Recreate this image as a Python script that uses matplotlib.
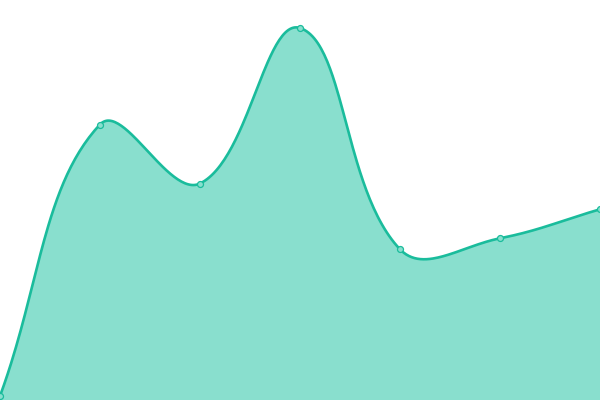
import numpy as np
import matplotlib
matplotlib.use("Agg")
import matplotlib.pyplot as plt

x_vals = [0, 100, 200, 300, 400, 500, 600]
y_vals = [4, 275.5, 216.5, 372, 150.7, 161.7, 190.7]

LINE = "#1abc9c"
FILL = "#89dfce"


def spline_controls(pts, t=0.4):
    """Chart.js-like control points for a cardinal spline."""
    n = len(pts)
    ctrl = []
    for i in range(n):
        cur = pts[i]
        prev = pts[i - 1] if i > 0 else cur
        nxt = pts[i + 1] if i < n - 1 else cur
        d01 = np.hypot(*(cur - prev))
        d12 = np.hypot(*(nxt - cur))
        tot = d01 + d12
        s01 = d01 / tot if tot else 0
        s12 = d12 / tot if tot else 0
        fa, fb = t * s01, t * s12
        ctrl.append((cur - fa * (nxt - prev), cur + fb * (nxt - prev)))
    return ctrl


def smooth(xs, ys, steps=60):
    pts = np.column_stack([xs, ys]).astype(float)
    ctrl = spline_controls(pts)
    out = [pts[0]]
    u = np.linspace(0, 1, steps)[1:, None]
    for i in range(len(pts) - 1):
        p0, p3 = pts[i], pts[i + 1]
        p1, p2 = ctrl[i][1], ctrl[i + 1][0]
        seg = ((1 - u) ** 3) * p0 + 3 * ((1 - u) ** 2) * u * p1 + 3 * (1 - u) * u ** 2 * p2 + u ** 3 * p3
        out.extend(seg)
    out = np.array(out)
    return out[:, 0], out[:, 1]


sx, sy = smooth(x_vals, y_vals)

fig = plt.figure(figsize=(6, 4), dpi=100)
ax = fig.add_axes([0, 0, 1, 1])
ax.fill_between(sx, sy, 0, color=FILL, lw=0)
ax.plot(sx, sy, color=LINE, lw=1.9, solid_capstyle="round")
ax.plot(x_vals, y_vals, "o", ms=4.3, mfc=FILL, mec=LINE, mew=0.9, clip_on=False)
ax.set_xlim(0, 600)
ax.set_ylim(0, 400)
ax.axis("off")

fig.savefig("out.png", dpi=100)
